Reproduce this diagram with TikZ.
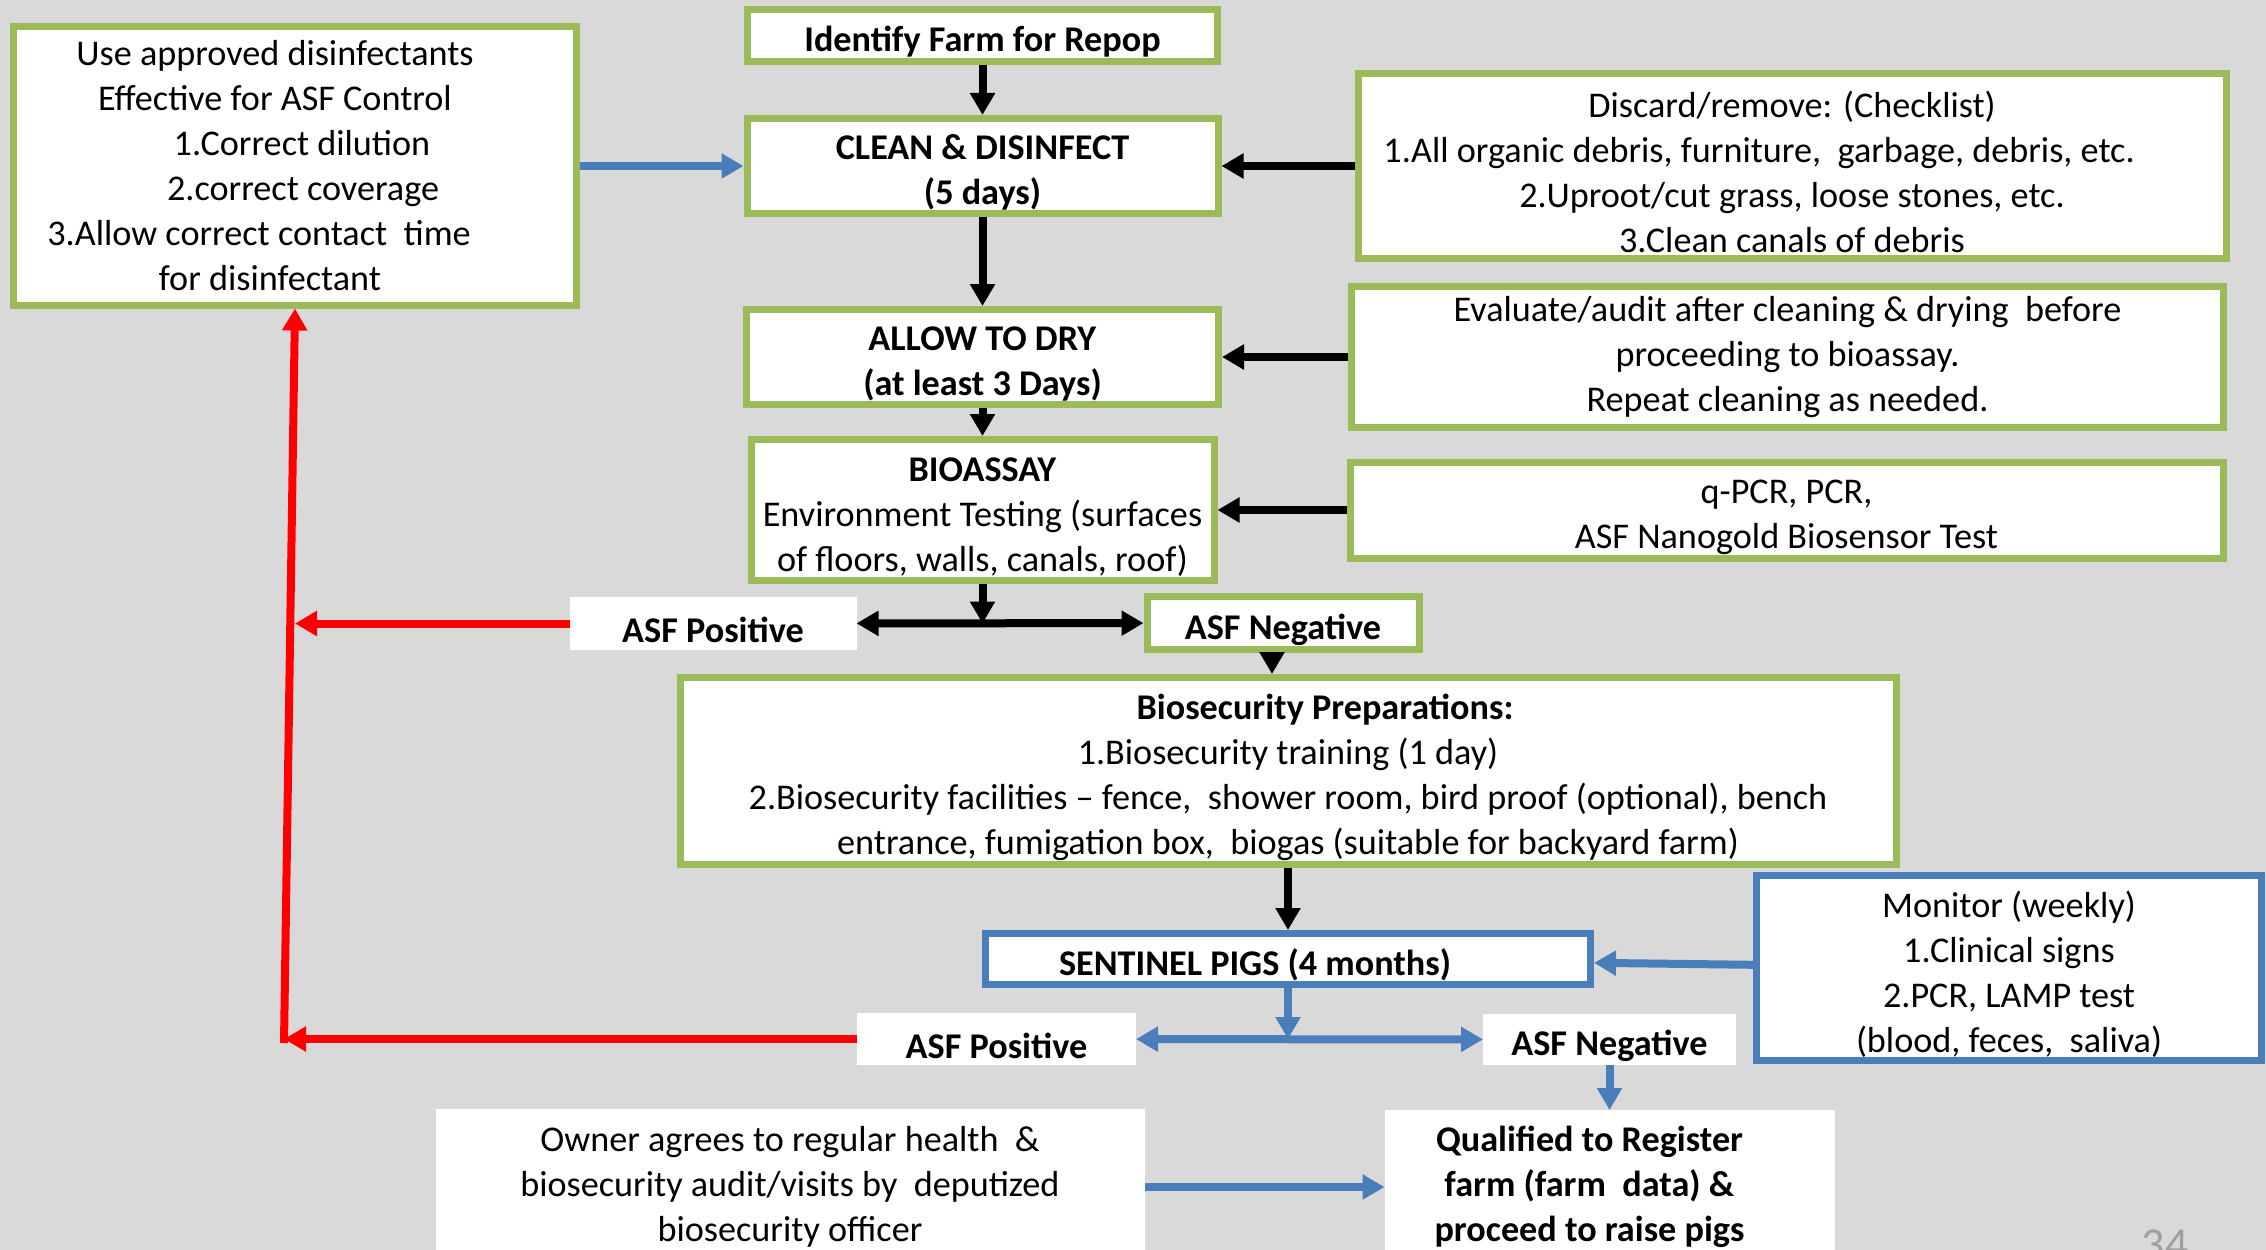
\documentclass[tikz,border=0pt]{standalone}
\usepackage{fontspec}
\setmainfont{Carlito}
\usetikzlibrary{arrows.meta, positioning}
\definecolor{boxgreen}{HTML}{9BBB59}
\definecolor{boxblue}{HTML}{4A7EBB}
\definecolor{bggray}{HTML}{D9D9D9}
\newcommand{\pad}[1]{\hspace*{#1}\null}
\newcommand{\lift}{\rule{0pt}{11pt}}
\begin{document}
\begin{tikzpicture}[
          font=\fontsize{10.3pt}{12.8pt}\selectfont,
          dn/.style={inner ysep=0pt, execute at begin node={\rule{0pt}{11pt}}},
          box/.style={draw, line width=0.07cm, fill=white, align=center, inner sep=2pt},
          gbox/.style={box, dn, draw=boxgreen},
          bbox/.style={box, dn, draw=boxblue},
          wbox/.style={fill=white, align=center, inner sep=2pt, outer sep=0pt},
          tagbox/.style={wbox, dn},
          arr/.style={-{Triangle[length=2.2mm, width=2.4mm]}, line width=0.08cm},
          barr/.style={arr, boxblue},
          rarr/.style={arr, red},
          dbl/.style={{Triangle[length=2.2mm, width=2.4mm]}-{Triangle[length=2.2mm, width=2.4mm]}, line width=0.08cm},
          bdbl/.style={dbl, boxblue}
        ]
        \useasboundingbox (0,0) rectangle (22.66,-12.5);
        \fill[bggray] (0,0) rectangle (22.66,-12.5);

        \node[gbox, minimum width=4.70cm, minimum height=0.52cm] (identify) at (9.825,-0.355)
          {\textbf{Identify Farm for Repop}};
        \node[gbox, minimum width=4.71cm, minimum height=0.95cm, below=0.5cm of identify] (clean)
          {\lift\textbf{CLEAN \& DISINFECT}\\ \textbf{(5 days)}};
        \node[gbox, minimum width=4.72cm, minimum height=0.95cm, below=0.89cm of clean] (allow)
          {\lift\textbf{ALLOW TO DRY}\\ \textbf{(at least 3 Days)}};
        \node[gbox, minimum width=4.63cm, minimum height=1.41cm, below=0.28cm of allow] (bioassay)
          {\lift\textbf{BIOASSAY}\\ Environment Testing (surfaces\\ of floors, walls, canals, roof)};

        \node[box, draw=boxgreen, minimum width=5.62cm, minimum height=2.78cm, left=1.64cm of clean] (usebox)
          {Use approved disinfectants\pad{0.4cm}\\ Effective for ASF Control\pad{0.4cm}\\
           \pad{0.14cm}1.Correct dilution\\ \pad{0.16cm}2.correct coverage\\
           3.Allow correct contact \ time\pad{0.72cm}\\ for disinfectant\pad{0.5cm}};
        \node[gbox, minimum width=8.68cm, minimum height=1.85cm, right=1.33cm of clean] (discard)
          {\lift Discard/remove: (Checklist)\\ 1.All organic debris, furniture, \ garbage, debris, etc.\pad{0.66cm}\\
           2.Uproot/cut grass, loose stones, etc.\\ 3.Clean canals of debris};
        \node[gbox, minimum width=8.72cm, minimum height=1.41cm, right=1.26cm of allow] (evaluate)
          {Evaluate/audit after cleaning \& drying \ before\\ proceeding to bioassay.\\ Repeat cleaning as needed.};
        \node[gbox, minimum width=8.73cm, minimum height=0.96cm, right=1.29cm of bioassay] (qpcr)
          {\lift q-PCR, PCR,\\ ASF Nanogold Biosensor Test};

        \node[tagbox, minimum width=2.87cm, minimum height=0.53cm, below left=0.13cm and -1.09cm of bioassay] (pos1)
          {\textbf{ASF Positive}};
        \node[gbox, minimum width=2.72cm, minimum height=0.53cm, below right=0.09cm and -0.74cm of bioassay] (neg1)
          {\textbf{ASF Negative}};

        \node[gbox, minimum width=12.16cm, minimum height=1.87cm, below=0.21cm of neg1, xshift=0.05cm] (biosec)
          {\lift\pad{0.74cm}\textbf{Biosecurity Preparations:}\\ 1.Biosecurity training (1 day)\\
           2.Biosecurity facilities -- fence, \ shower room, bird proof (optional), bench\\
           entrance, fumigation box, \ biogas (suitable for backyard farm)};
        \node[bbox, minimum width=6.05cm, minimum height=0.51cm, below=0.62cm of biosec] (sentinel)
          {\textbf{SENTINEL PIGS (4 months)}\pad{0.66cm}};
        \node[bbox, minimum width=5.05cm, minimum height=1.85cm, below right=-0.58cm and 1.59cm of sentinel.north east] (monitor)
          {\lift Monitor (weekly)\\ 1.Clinical signs\\ 2.PCR, LAMP test\\ (blood, feces, \ saliva)};

        \node[tagbox, minimum width=2.79cm, minimum height=0.52cm, below left=0.25cm and -1.54cm of sentinel.south west] (pos2)
          {\textbf{ASF Positive}};
        \node[tagbox, minimum width=2.53cm, minimum height=0.51cm, below right=0.26cm and -1.11cm of sentinel.south east] (neg2)
          {\textbf{ASF Negative}};
        \node[wbox, minimum width=4.50cm, minimum height=1.54cm, below=0.45cm of neg2] (qualified)
          {\textbf{Qualified to Register}\pad{0.4cm}\\ \textbf{farm (farm \ data) \&}\pad{0.4cm}\\
           \textbf{proceed to raise pigs}\pad{0.4cm}};
        \node[wbox, minimum width=7.09cm, minimum height=1.56cm, left=2.40cm of qualified] (owner)
          {Owner agrees to regular health \ \&\\ biosecurity audit/visits by \ deputized\\ biosecurity officer};

        \node[text=gray!75, font=\fontsize{13pt}{15pt}\selectfont, anchor=base] (pagenum) at (21.65,-12.59) {34};

        \coordinate (split1) at (bioassay.south |- pos1.east);
        \coordinate (split2) at (sentinel.south |- pos2.east);
        \coordinate (redcorner) at ([xshift=-0.11cm]pos2.west -| usebox.south);

        \draw[arr] (identify) -- (clean);
        \draw[arr] (clean) -- (allow);
        \draw[arr] (allow) -- (bioassay);
        \draw[barr] (usebox) -- (clean);
        \draw[arr] (discard) -- (clean);
        \draw[arr] (evaluate) -- (allow);
        \draw[arr] (qpcr) -- (bioassay);
        \draw[arr] (bioassay) -- (split1);
        \draw[dbl] (pos1) -- (neg1);
        \draw[arr] ([xshift=-0.11cm]neg1.south) -- ([xshift=-0.11cm]neg1.south |- biosec.north);
        \draw[arr] (biosec) -- (sentinel);
        \draw[barr] (monitor) -- (sentinel);
        \draw[barr] (sentinel) -- (split2);
        \draw[bdbl] (pos2) -- (neg2);
        \draw[barr] (neg2) -- (qualified);
        \draw[barr] (owner) -- (qualified);
        \draw[rarr] (pos1) -- (pos1.west -| usebox.south);
        \draw[rarr] (pos2) -- (redcorner);
        \draw[rarr] ([yshift=-0.04cm]redcorner) -- (usebox.south);
      \end{tikzpicture}
\end{document}
